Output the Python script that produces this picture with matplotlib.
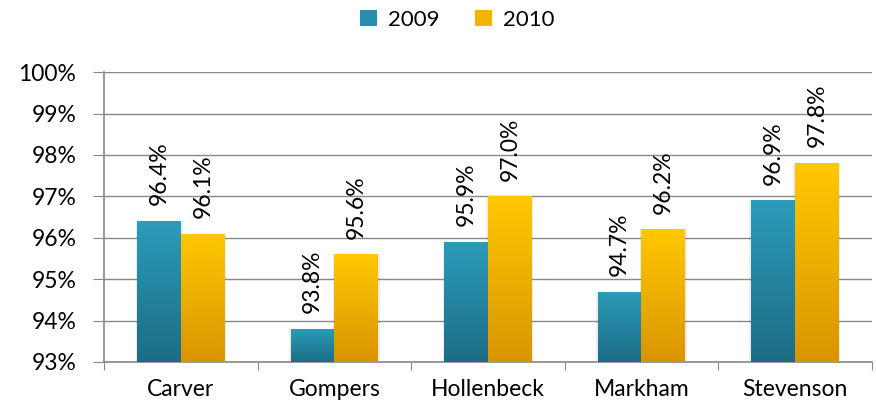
import numpy as np
import matplotlib
matplotlib.use("Agg")
import matplotlib.pyplot as plt
from matplotlib.colors import LinearSegmentedColormap
from matplotlib.patches import Patch

schools = ['Carver', 'Gompers', 'Hollenbeck', 'Markham', 'Stevenson']
y2009 = [96.4, 93.8, 95.9, 94.7, 96.9]
y2010 = [96.1, 95.6, 97.0, 96.2, 97.8]
series = ['2009', '2010']

plt.rcParams['font.family'] = ['Lato', 'DejaVu Sans']

teal = LinearSegmentedColormap.from_list('teal', ['#1d6c85', '#2b9cba'])
gold = LinearSegmentedColormap.from_list('gold', ['#d99500', '#ffc800'])

fig = plt.figure(figsize=(8.76, 4.17), dpi=100)
ax = fig.add_axes([0.119, 0.132, 0.876, 0.695])

x = np.arange(len(schools))
w = 0.286
grad = np.linspace(0, 1, 256).reshape(-1, 1)


def gradient_bars(xs, vals, cmap):
    bars = ax.bar(xs, np.array(vals) - 93, width=w, bottom=93, color='none', zorder=3)
    for b in bars:
        x0, y0 = b.get_x(), b.get_y()
        x1, y1 = x0 + b.get_width(), y0 + b.get_height()
        # soft shadow
        ax.add_patch(plt.Rectangle((x0 - 0.01, y0), x1 - x0 + 0.02, y1 - y0 - 0.03,
                                   color='#000000', alpha=0.07, lw=0, zorder=2.5))
        im = ax.imshow(grad, extent=[x0, x1, y0, y1], origin='lower', cmap=cmap,
                       aspect='auto', zorder=3)
        im.set_clip_path(b)
    return bars


gradient_bars(x - w / 2, y2009, teal)
gradient_bars(x + w / 2, y2010, gold)

for i in range(len(schools)):
    ax.text(x[i] - w / 2, y2009[i] + 0.38, f'{y2009[i]:.1f}%', rotation=90,
            ha='center', va='bottom', fontsize=16.5, zorder=4)
    ax.text(x[i] + w / 2, y2010[i] + 0.38, f'{y2010[i]:.1f}%', rotation=90,
            ha='center', va='bottom', fontsize=16.5, zorder=4)

ax.set_xlim(-0.5, len(schools) - 0.5)
ax.set_ylim(93, 100)
ax.set_yticks(np.arange(93, 101))
ax.set_yticklabels([f'{v}%' for v in range(93, 101)], fontsize=16.5)
ax.set_xticks(np.arange(-0.5, len(schools)))
ax.set_xticklabels([])
ax.set_xticks(x, minor=True)
ax.set_xticklabels(schools, minor=True, fontsize=16.5)
ax.tick_params(axis='x', which='minor', length=0, pad=12)
ax.tick_params(axis='x', which='major', length=6, color='#888888', direction='out')
ax.tick_params(axis='y', length=8, color='#888888', direction='out', pad=12)
ax.grid(axis='y', color='#888888', lw=1, zorder=1)
ax.set_axisbelow(True)
for s in ['top', 'right']:
    ax.spines[s].set_visible(False)
for s in ['left', 'bottom']:
    ax.spines[s].set_color('#888888')
    ax.spines[s].set_linewidth(1.2)

handles = [Patch(facecolor='#2590ad'), Patch(facecolor='#f2b400')]
fig.legend(handles, series, loc='upper center', bbox_to_anchor=(0.522, 1.025), ncol=2,
           frameon=False, fontsize=16, handlelength=0.75, handleheight=0.75,
           handletextpad=0.5, columnspacing=1.6)

fig.savefig('out.png', dpi=100)
